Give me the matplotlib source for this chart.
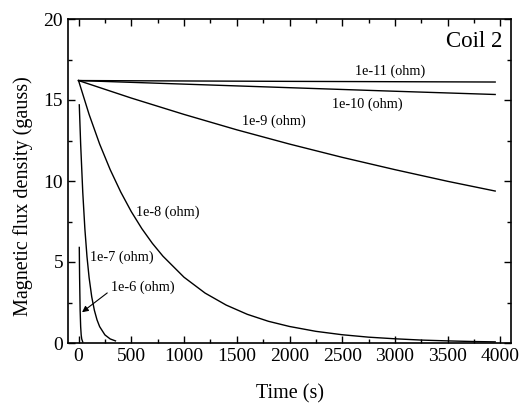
import matplotlib
matplotlib.use("Agg")
import matplotlib.pyplot as plt
from matplotlib.ticker import MultipleLocator

plt.rcParams['font.family'] = ['Liberation Serif', 'DejaVu Serif']

# values (time in s, flux density in gauss)
t_1e11 = [0, 2000, 3950]
b_1e11 = [16.2, 16.15, 16.11]

t_1e10 = [0, 1000, 2000, 3000, 3950]
b_1e10 = [16.2, 15.98, 15.76, 15.54, 15.34]

t_1e9 = [0, 500, 1000, 1500, 2000, 2500, 3000, 3500, 3950]
b_1e9 = [16.2, 15.12, 14.11, 13.16, 12.28, 11.46, 10.70, 9.98, 9.38]

t_1e8 = [0, 100, 200, 300, 400, 500, 600, 700, 800, 1000, 1200, 1400, 1600,
         1800, 2000, 2250, 2500, 2750, 3000, 3250, 3500, 3750, 3950]
b_1e8 = [16.2, 14.11, 12.28, 10.70, 9.32, 8.11, 7.06, 6.15, 5.36, 4.06, 3.08,
         2.34, 1.77, 1.34, 1.02, 0.72, 0.51, 0.36, 0.26, 0.18, 0.13, 0.09, 0.07]

t_1e7 = [7, 20, 40, 60, 80, 100, 125, 150, 175, 200, 250, 300, 350]
b_1e7 = [14.7, 12.27, 9.30, 7.04, 5.33, 4.04, 2.85, 2.02, 1.43, 1.01, 0.50, 0.25, 0.13]

t_1e6 = [7, 10, 15, 20, 25, 30, 40]
b_1e6 = [5.9, 4.04, 2.02, 1.01, 0.50, 0.25, 0.06]

series = [(t_1e11, b_1e11), (t_1e10, b_1e10), (t_1e9, b_1e9),
          (t_1e8, b_1e8), (t_1e7, b_1e7), (t_1e6, b_1e6)]

fig = plt.figure(figsize=(5.32, 4.04), dpi=100)
ax = fig.add_axes([68/532, 1 - 343/404, (511-68)/532, (343-19)/404])

for t, b in series:
    ax.plot(t, b, color='black', lw=1.0)

# curve labels
lab_size = 10.3
ax.text(2950, 16.8, "1e-11 (ohm)", ha='center', va='center', fontsize=lab_size)
ax.text(2735, 14.75, "1e-10 (ohm)", ha='center', va='center', fontsize=lab_size)
ax.text(1850, 13.66, "1e-9 (ohm)", ha='center', va='center', fontsize=lab_size)
ax.text(848, 8.1, "1e-8 (ohm)", ha='center', va='center', fontsize=lab_size)
ax.text(414, 5.29, "1e-7 (ohm)", ha='center', va='center', fontsize=lab_size)
ax.text(607, 3.44, "1e-6 (ohm)", ha='center', va='center', fontsize=lab_size)
ax.annotate("", xy=(33, 1.9), xytext=(272, 3.09),
            arrowprops=dict(arrowstyle='-|>', color='black', lw=0.8,
                            shrinkA=0, shrinkB=0, mutation_scale=9))
ax.text(4016, 18.64, "Coil 2", ha='right', va='center', fontsize=16.5)

ax.set_xlim(-100, 4100)
ax.set_ylim(0, 20)
ax.xaxis.set_major_locator(MultipleLocator(500))
ax.xaxis.set_minor_locator(MultipleLocator(250))
ax.yaxis.set_major_locator(MultipleLocator(5))
ax.yaxis.set_minor_locator(MultipleLocator(2.5))
ax.tick_params(which='both', direction='in', top=True, right=True, labelsize=14, width=1.0)
ax.tick_params(which='major', length=5)
ax.tick_params(which='minor', length=3)
for s in ax.spines.values():
    s.set_linewidth(1.2)

ax.set_xlabel("Time (s)", fontsize=14.5, labelpad=14)
ax.set_ylabel("Magnetic flux density (gauss)", fontsize=14.5)
ax.yaxis.set_label_coords(-0.079, 0.454)

fig.savefig("out.png", dpi=100)
